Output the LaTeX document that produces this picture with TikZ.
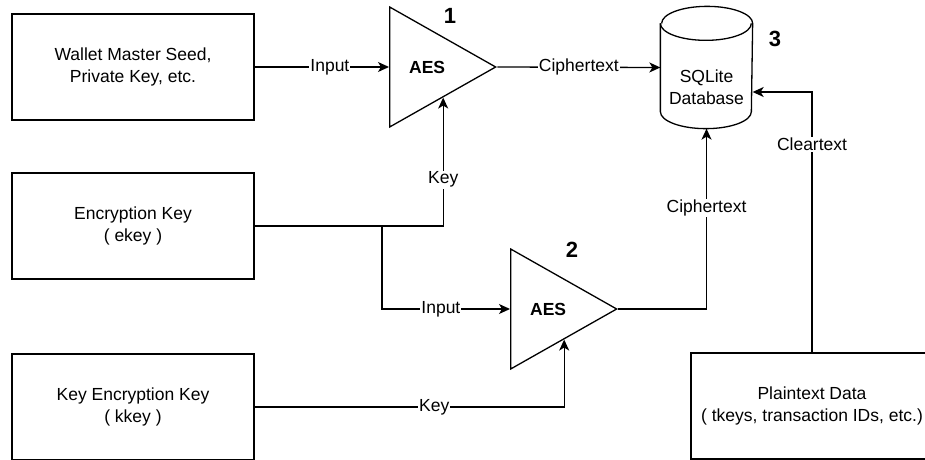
\documentclass[tikz,border=0pt]{standalone}
\usepackage{fontspec}
\setmainfont{Liberation Sans}
\usetikzlibrary{shapes.geometric,arrows.meta}

\begin{document}
\begin{tikzpicture}[x=1pt, y=1pt, line width=1.3pt,
    font=\fontsize{17.5}{22}\selectfont,
    box/.style={draw, rectangle, minimum width=242pt, minimum height=106pt, align=center},
    aes/.style={draw, isosceles triangle, isosceles triangle stretches,
      minimum width=120pt, minimum height=106pt, inner sep=0pt, anchor=lower side,
      font=\fontsize{17.5}{22}\selectfont\bfseries},
    num/.style={font=\fontsize{22}{26}\selectfont\bfseries},
    lbl/.style={fill=white, inner sep=1pt},
    arr/.style={-{Stealth[length=11pt, width=10pt, inset=3pt]}}]

  \useasboundingbox (0,0) rectangle (925,459);
  \clip (0,0) rectangle (925,459);

  % key material and data
  \node[box] (MS) at (133,392) {Wallet Master Seed,\\Private Key, etc.};
  \node[box] (EK) at (133,233) {Encryption Key\\( ekey )};
  \node[box] (KEK) at (133,52) {Key Encryption Key\\( kkey )};
  \node[box] (PT) at (812,53) {Plaintext Data\\( tkeys, transaction IDs, etc.)};

  % AES blocks (placed by their base)
  \node[aes] (A1) at (389,392) {AES};
  \node[aes] (A2) at (510,150) {AES};
  \node[num] (N1) at (450,443) {1};
  \node[num] (N2) at (572,209) {2};
  \node[num] (N3) at (775,420) {3};

  % database cylinder
  \def\rx{45.5pt} % half width
  \def\ry{17pt} % ellipse radius
  \node[minimum width=91pt, minimum height=121pt, inner sep=0pt] (DB) at (706.5,391.5) {};
  \draw ([yshift=-\ry]DB.north west) -- ([yshift=\ry]DB.south west)
    arc[start angle=180, end angle=360, x radius=\rx, y radius=\ry]
    -- ([yshift=-\ry]DB.north east)
    arc[start angle=0, end angle=180, x radius=\rx, y radius=\ry];
  \draw ([yshift=-\ry]DB.north west)
    arc[start angle=180, end angle=360, x radius=\rx, y radius=\ry];
  \node[align=center] (DBT) at ([yshift=-19.5pt]DB.center) {SQLite\\Database};

  % top path
  \draw[arr] (MS.east) -- node[lbl, pos=0.56] {Input} (A1.lower side);
  \draw[arr] (A1.apex) -- node[lbl] {Ciphertext} (DB.west);

  % ekey split
  \coordinate (J) at (382,233);
  \draw (EK.east) -- (J);
  \draw[arr] (J) -| node[lbl, pos=0.68] {Key} (A1.right side);
  \draw[arr] (J) |- node[lbl, pos=0.73] {Input} (A2.lower side);

  % kkey path
  \draw[arr] (KEK.east) -| node[lbl, pos=0.29] {Key} (A2.right side);
  \draw[arr] (A2.apex) -| node[lbl, pos=0.78] {Ciphertext} (DB.south);

  % cleartext path
  \draw[arr] (PT.north) |- node[lbl, pos=0.4] {Cleartext} ([yshift=-24.5pt]DB.east);

\end{tikzpicture}
\end{document}
